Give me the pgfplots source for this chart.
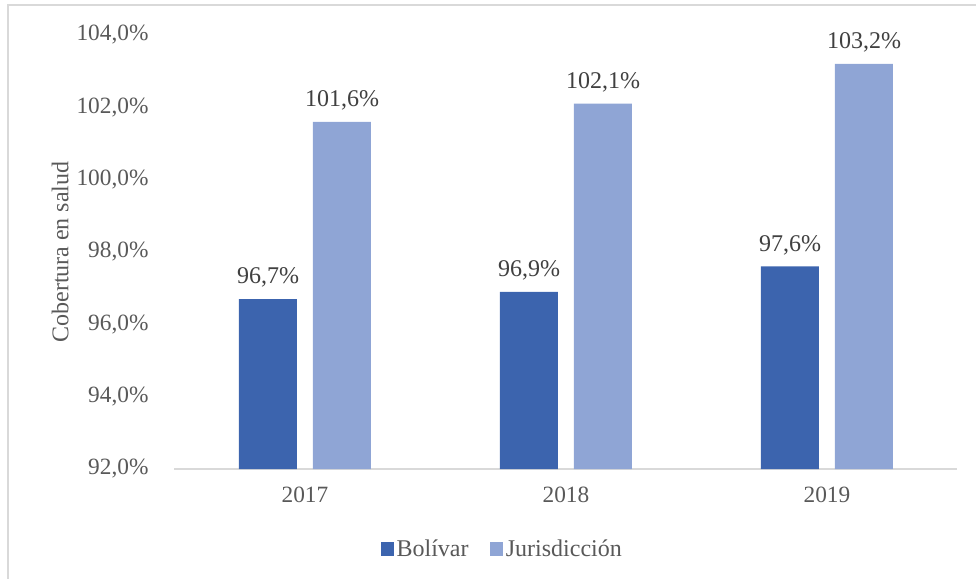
\documentclass[border=0pt]{standalone}
\usepackage{pgfplots}
\pgfplotsset{compat=1.18}
\usepackage{fontspec}
\setmainfont{Liberation Serif}
\definecolor{bolivar}{HTML}{3C64AE}
\definecolor{juris}{HTML}{8FA5D5}
\definecolor{ticktxt}{HTML}{595959}
\definecolor{lbltxt}{HTML}{404040}
\definecolor{axln}{HTML}{D9D9D9}
\begin{document}
\begin{tikzpicture}
\useasboundingbox (-130.875pt,-82.5pt) rectangle (601.125pt,351.75pt);
\draw[axln, line width=1pt] (-124.875pt,-90pt) rectangle (610pt,348pt);
\begin{axis}[
  scale only axis,
  width=587.25pt, height=325.5pt,
  ybar=12pt, bar width=43.5pt,
  xmin=-0.5, xmax=2.5,
  ymin=92, ymax=104,
  xtick={0,1,2}, xticklabels={2017,2018,2019},
  ytick={92,94,...,104},
  yticklabels={{92,0\%},{94,0\%},{96,0\%},{98,0\%},{100,0\%},{102,0\%},{104,0\%}},
  axis x line*=bottom, axis y line*=left,
  x axis line style={axln, line width=1.2pt, -},
  y axis line style={draw=none},
  major tick length=0pt,
  tick label style={font=\fontsize{17.5}{21}\selectfont, text=ticktxt},
  yticklabel style={anchor=east, xshift=-16pt},
  xticklabel style={yshift=-10pt},
  ylabel={Cobertura en salud},
  ylabel style={font=\fontsize{18}{21}\selectfont, text=ticktxt, at={(axis description cs:-0.146,0.5)}, anchor=center},
  nodes near coords={\pgfmathprintnumber[fixed,fixed zerofill,precision=1,use comma,assume math mode=true]{\pgfplotspointmeta}\%},
  nodes near coords style={font=\fontsize{18}{21}\selectfont, text=lbltxt, anchor=south, yshift=5pt},
  legend style={at={(0.419,-0.184)}, anchor=center, draw=none, legend columns=2,
    font=\fontsize{18}{21}\selectfont, text=ticktxt,
    /tikz/every even column/.append style={column sep=14pt}},
  legend image code/.code={\fill[#1] (0pt,-5pt) rectangle (10pt,5pt);},
  clip=false,
]
\addplot[fill=bolivar, draw=none] coordinates {(0,96.7) (1,96.9) (2,97.6)};
\addlegendentry{Bolívar}
\addplot[fill=juris, draw=none] coordinates {(0,101.6) (1,102.1) (2,103.2)};
\addlegendentry{Jurisdicción}
\end{axis}
\end{tikzpicture}
\end{document}
